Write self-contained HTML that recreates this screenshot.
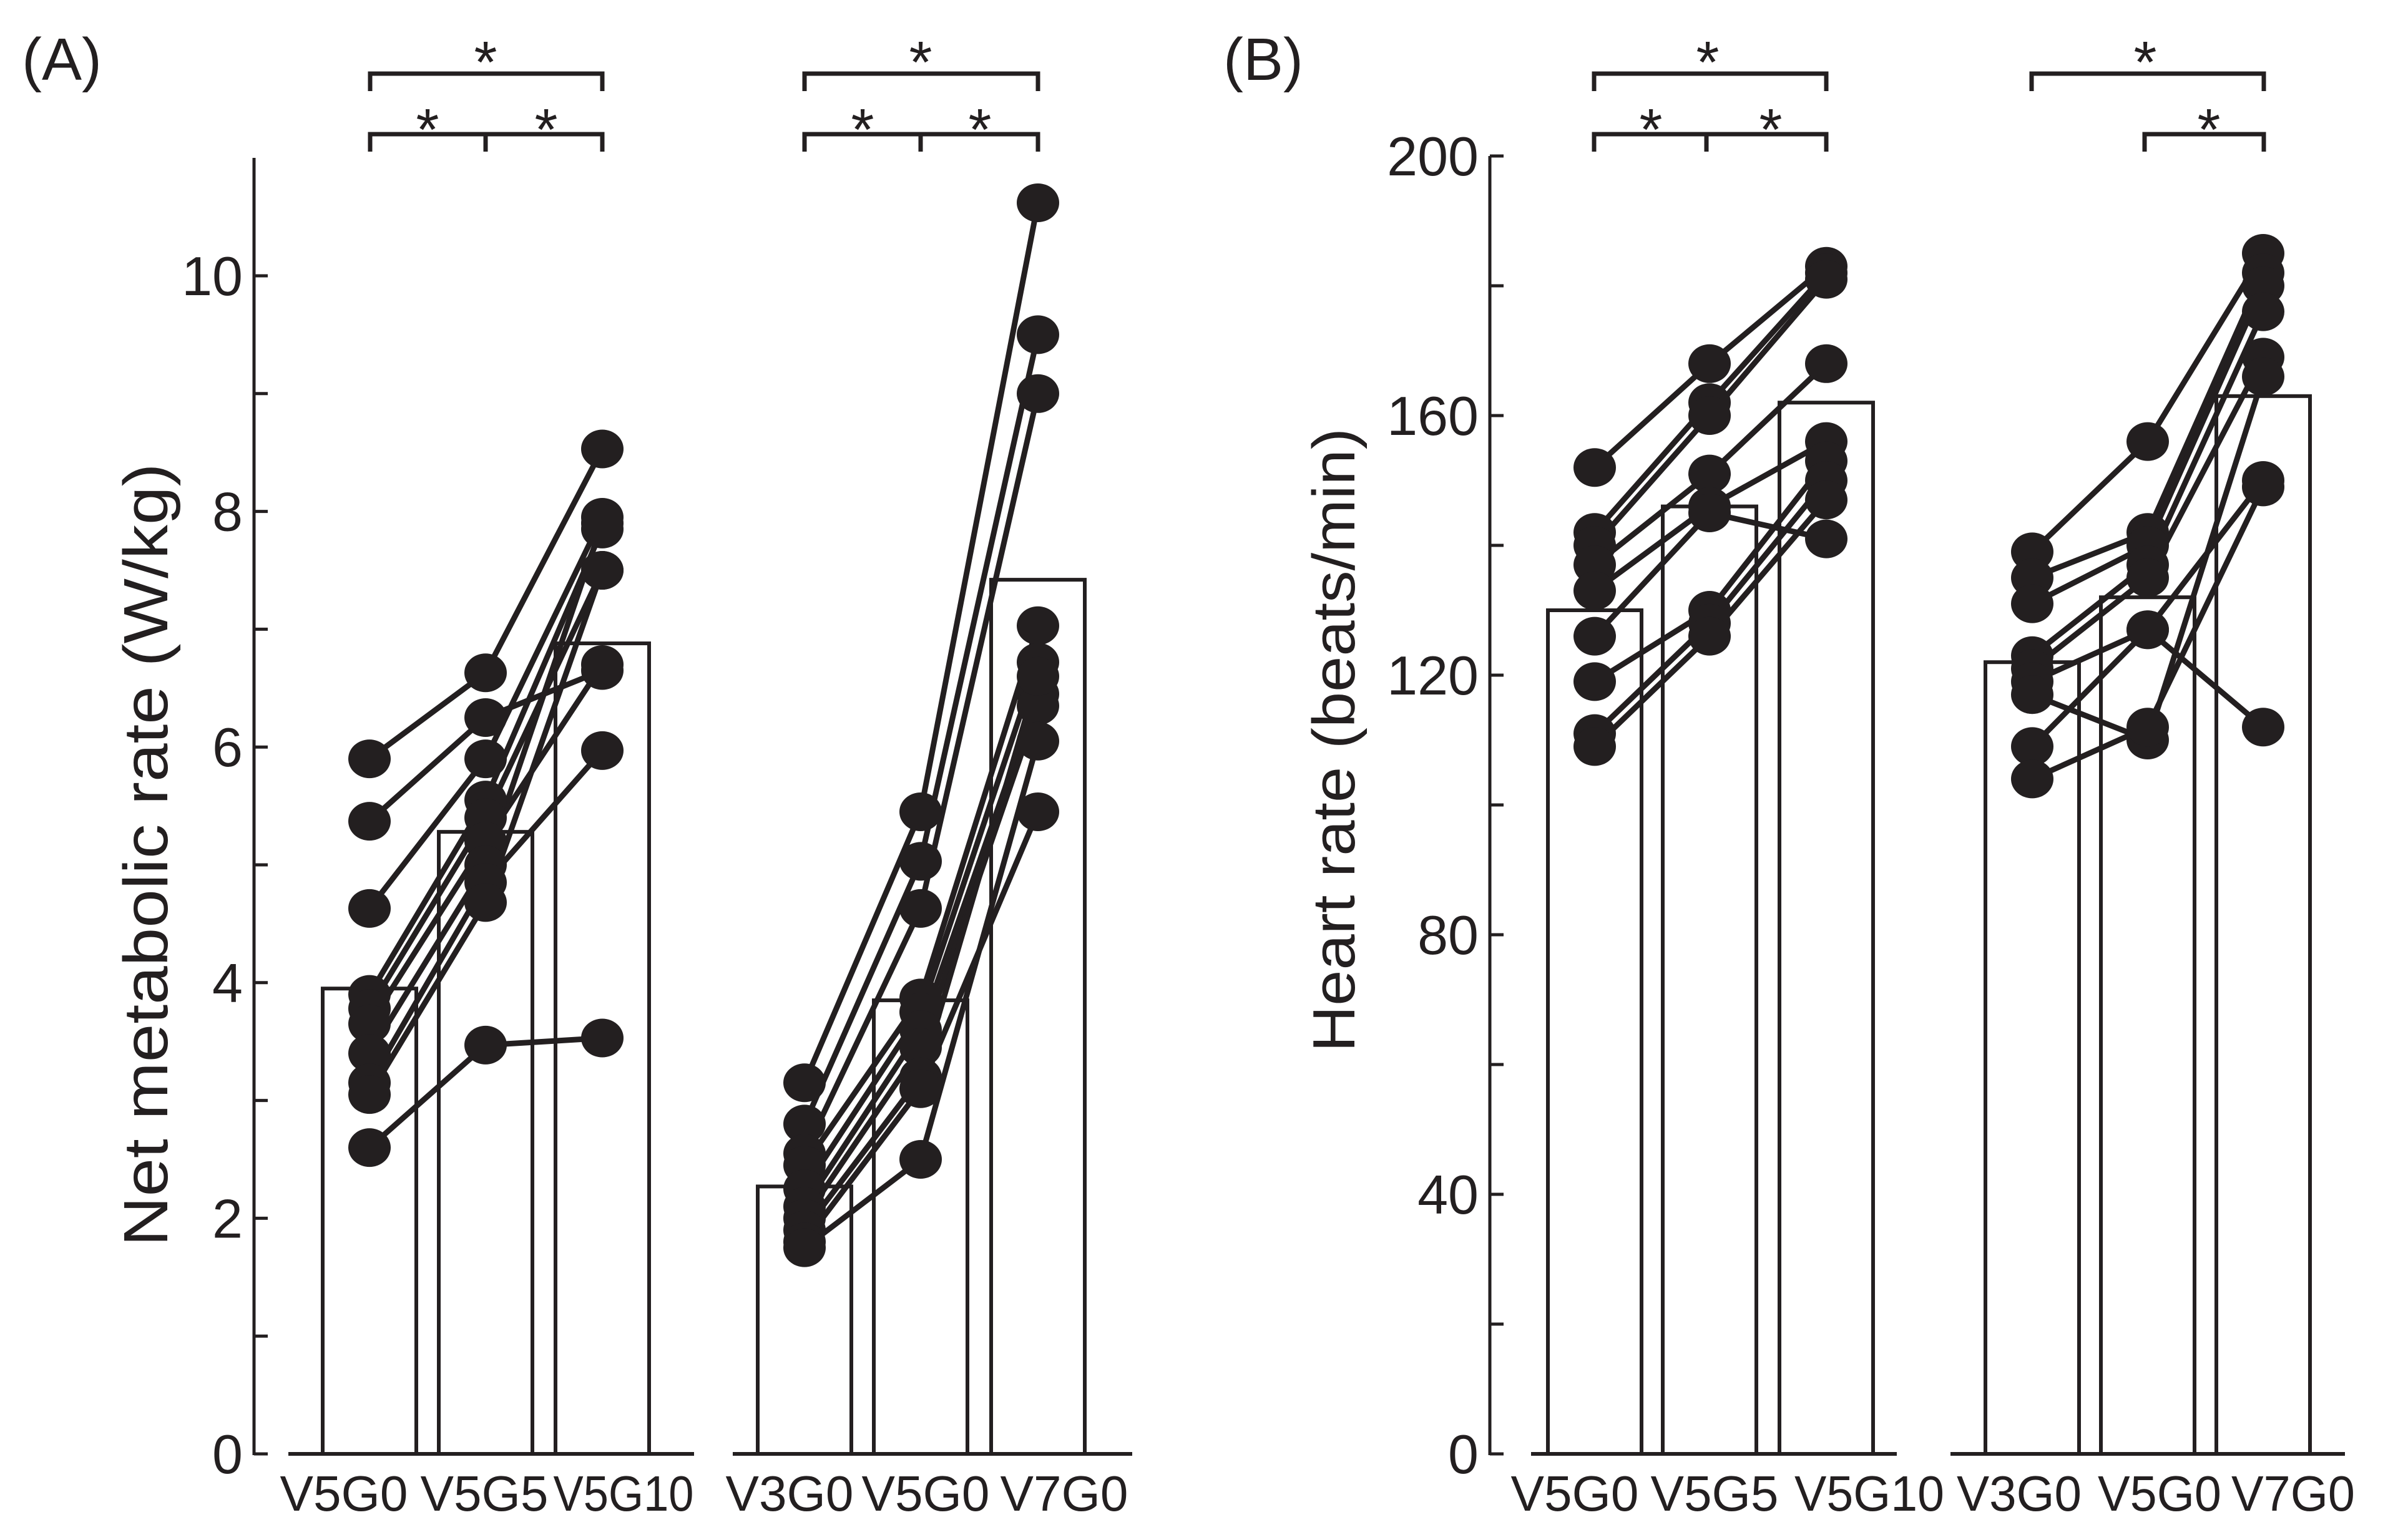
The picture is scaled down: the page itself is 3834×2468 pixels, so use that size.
<!DOCTYPE html>
<html><head><meta charset="utf-8">
<style>
html,body{margin:0;padding:0;background:#fff;}
svg{display:block;font-family:"Liberation Sans",Arial,sans-serif;}
</style></head>
<body>
<svg id="fig" width="3834" height="2468" viewBox="0 0 3834 2468" xmlns="http://www.w3.org/2000/svg">
<rect width="3834" height="2468" fill="#fff"/>
</svg>
<script>
// ---- data (panel A: net metabolic rate W/kg) ----
const aCategories = ["V5G0","V5G5","V5G10","V3G0","V5G0","V7G0"];
const aMeans = [3.95, 5.28, 6.88, 2.27, 3.85, 7.42];
const aGroup1 = [
 [5.9,6.63,8.53],[5.37,6.25,6.65],[4.63,5.9,7.95],[3.9,5.55,7.85],[3.78,5.4,7.5],
 [3.65,5.2,6.7],[3.4,5.0,7.9],[3.15,4.85,5.97],[3.05,4.68,7.5],[2.6,3.47,3.53]];
const aGroup2 = [
 [3.15,5.45,10.62],[2.8,5.03,9.5],[2.55,4.63,9.0],[2.45,3.87,7.03],[2.25,3.75,6.72],
 [2.1,3.6,6.45],[2.0,3.45,6.35],[1.9,3.2,6.6],[1.8,3.1,5.45],[1.75,2.5,6.05]];
const aTickLabels = [0,2,4,6,8,10];
// ---- data (panel B: heart rate beats/min) ----
const bCategories = ["V5G0","V5G5","V5G10","V3G0","V5G0","V7G0"];
const bMeans = [130, 146, 162, 122, 132, 163];
const bGroup1 = [
 [152,168,183],[142,162,182],[140,160,181],[137,151,168],[133,146,156],
 [126,145,141],[119,130,153],[111,128,150],[109,126,147]];
const bGroup2 = [
 [139,156,185],[135,142,182],[131,140,180],[123,137,176],[121,135,169],
 [119,127,112],[117,110,166],[109,127,150],[104,112,149]];
const bTickLabels = [0,40,80,120,160,200];

const NS="http://www.w3.org/2000/svg";
const svg=document.getElementById('fig');
const INK="#231f20";
function mk(tag,attrs,parent){const e=document.createElementNS(NS,tag);for(const k in attrs)e.setAttribute(k,attrs[k]);(parent||svg).appendChild(e);return e;}

function panel(cfg){
  const g=mk('g',{});
  
  
  const y=v=>cfg.y0-(v-cfg.vmin)*cfg.ppu;
  const ax=mk('line',{x1:cfg.ax,y1:cfg.axTop,x2:cfg.ax,y2:cfg.y0+2,stroke:INK,'stroke-width':5},g);
  
  
  for(let v=cfg.vmin; v<=cfg.tickMax+1e-9; v+=cfg.minor){
    const t=mk('line',{x1:cfg.ax,y1:y(v),x2:cfg.ax+22,y2:y(v),stroke:INK,'stroke-width':5},g);
    
    
  }
  cfg.tickLabels.forEach(v=>{
    const t=mk('text',{x:cfg.ax-18,y:y(v)+31,'text-anchor':'end','font-size':88,fill:INK},g);
    t.textContent=v;
    
    
  });
  const yt=mk('text',{x:0,y:0,'text-anchor':'middle','font-size':cfg.titleSize,fill:INK,transform:`translate(${cfg.titleX},${cfg.titleY}) rotate(-90)`,textLength:cfg.titleLen,lengthAdjust:'spacingAndGlyphs'},g);
  yt.textContent=cfg.title;
  
  
  cfg.baselines.forEach(b=>{
    const l=mk('line',{x1:b[0],y1:cfg.y0,x2:b[1],y2:cfg.y0,stroke:INK,'stroke-width':6},g);
    
    
  });
  cfg.means.forEach((m,i)=>{
    const cx=cfg.centers[i];
    const r=mk('rect',{x:cx-75,y:y(m),width:150,height:cfg.y0-y(m),fill:'#fff',stroke:INK,'stroke-width':6},g);
    
    
  });
  [cfg.g1,cfg.g2].forEach((grp,gi)=>{
    const xs=cfg.centers.slice(gi*3,gi*3+3);
    grp.forEach(s=>{
      const p=mk('polyline',{points:s.map((v,k)=>xs[k]+','+y(v)).join(' '),fill:'none',stroke:INK,'stroke-width':9},g);
      
      
    });
    grp.forEach(s=>{
      s.forEach((v,k)=>{
        const c=mk('ellipse',{cx:xs[k],cy:y(v),rx:34,ry:31,fill:INK},g);
        
        
      });
    });
  });
  cfg.categories.forEach((c,i)=>{
    const t=mk('text',{x:cfg.labelX[i],y:2421,'text-anchor':'middle','font-size':80,fill:INK,textLength:cfg.labelW[i],lengthAdjust:'spacingAndGlyphs'},g);
    t.textContent=c;
    
    
  });
  cfg.brackets.forEach(b=>{
    const [x1,x2,yy,mid]=b;
    let d=`M${x1},${yy+28} V${yy} H${x2} V${yy+28}`;
    if(mid) d+=` M${mid},${yy} V${yy+28}`;
    const p=mk('path',{d:d,fill:'none',stroke:INK,'stroke-width':7},g);
    
    
  });
  cfg.stars.forEach(s=>{
    const t=mk('text',{x:s[0],y:s[1]+50,'text-anchor':'middle','font-size':95,fill:INK},g);
    t.textContent='*';
    
    
  });
  const pl=mk('text',{x:cfg.plx,y:128,'font-size':96,fill:INK},g);
  pl.textContent=cfg.panelLabel;
  
  
}

panel({name:'panel-a',panelLabel:'(A)',plx:35,categories:aCategories,means:aMeans,g1:aGroup1,g2:aGroup2,
  tickLabels:aTickLabels,vmin:0,ppu:188.8,y0:2330,ax:407,axTop:253,tickMax:10.9,minor:1,
  title:'Net metabolic rate (W/kg)',titleX:268,titleY:1370,titleSize:100,titleLen:1255,
  centers:[592,778,965,1289,1475,1663],baselines:[[462,1112],[1174,1814]],
  labelX:[551,776,999,1265,1483,1705],labelW:[205,205,225,205,205,205],
  brackets:[[593,965,118],[593,965,215,778],[1289,1663,118],[1289,1663,215,1475]],
  stars:[[778,82],[685,190],[875,190],[1475,82],[1382,190],[1570,190]]});

panel({name:'panel-b',panelLabel:'(B)',plx:1960,categories:bCategories,means:bMeans,g1:bGroup1,g2:bGroup2,
  tickLabels:bTickLabels,vmin:0,ppu:10.4,y0:2330,ax:2387,axTop:250,tickMax:200,minor:20,
  title:'Heart rate (beats/min)',titleX:2170,titleY:1186,titleSize:96,titleLen:1000,
  centers:[2555,2739,2926,3256,3441,3626],baselines:[[2453,3039],[3125,3757]],
  labelX:[2523,2747,2995,3235,3460,3674],labelW:[205,205,240,200,198,198],
  brackets:[[2554,2926,118],[2554,2926,215,2734],[3255,3627,118],[3436,3627,215]],
  stars:[[2736,82],[2645,190],[2837,190],[3437,82],[3539,190]]});
</script>
</body></html>
